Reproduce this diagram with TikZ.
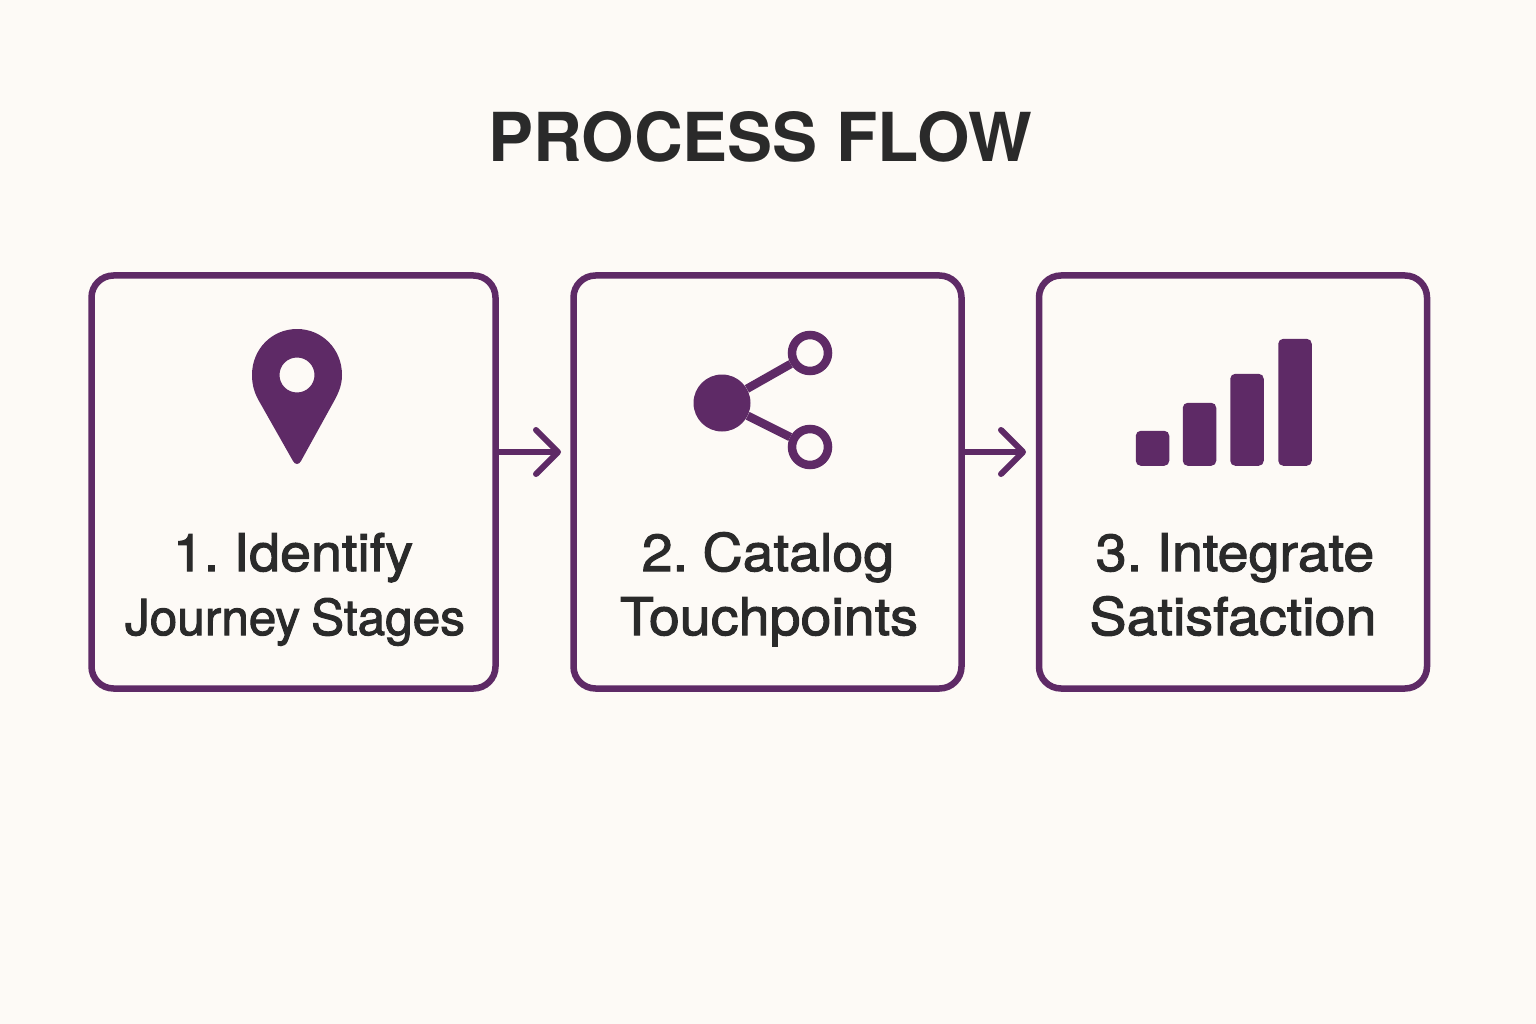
\documentclass[tikz,border=0pt]{standalone}
\usepackage{fontspec}
\setmainfont{TeX Gyre Heros}
\newfontfamily\labelfont[FakeBold=2,FakeStretch=1.07,WordSpace=0.6]{TeX Gyre Heros}
\newfontfamily\narrowfont[FakeBold=2,WordSpace=0.8]{TeX Gyre Heros}
\usepackage{xcolor}
\usetikzlibrary{arrows.meta,positioning}
\definecolor{pagebg}{HTML}{FDFAF6}
\definecolor{plum}{HTML}{5E2A66}
\definecolor{ink}{HTML}{2A2A2A}
\tikzset{
    stagebox/.style={draw=plum,line width=6.5pt,rounded corners=22pt,fill=none,minimum height=413pt,inner sep=0pt},
    stagelabel/.style={text=ink,font=\labelfont\fontsize{52}{52}\selectfont,inner sep=0pt,anchor=base},
    narrowlabel/.style={stagelabel,font=\narrowfont\fontsize{49.5}{50}\selectfont},
    flow/.style={draw=plum,line width=6pt,-{Straight Barb[length=22pt,width=44pt,round,line width=6pt]}},
    hub/.style={circle,fill=plum,minimum size=57pt,inner sep=0pt},
    ring/.style={circle,draw=plum,line width=8.5pt,minimum size=36pt,inner sep=0pt},
    spoke/.style={draw=plum,line width=8.5pt},
    bar/.style={fill=plum,rounded corners=5pt,minimum width=33.5pt,inner sep=0pt,anchor=south}
}
\begin{document}
\begin{tikzpicture}[x=1pt,y=-1pt]
    \fill[pagebg] (0,0) rectangle (1536,1024);
    \useasboundingbox (0,0) rectangle (1536,1024);

    \node[text=ink,font=\bfseries\fontsize{67.5}{68}\selectfont,inner sep=0pt,anchor=base] (title) at (760,162) {PROCESS FLOW};

    \node[stagebox,minimum width=404pt] (identify) at (293.5,482) {};
    \node[stagebox,minimum width=388pt] (catalog) at (767.5,482) {};
    \node[stagebox,minimum width=388pt] (integrate) at (1233,482) {};

    % arrows
    \coordinate (tipa) at (561,452);
    \coordinate (tipb) at (1026,452);
    \draw[flow] (identify.east |- tipa) -- (tipa);
    \draw[flow] (catalog.east |- tipb) -- (tipb);

    % pin
    \fill[plum,even odd rule] (297,329)
        .. controls (322,329) and (342,349) .. (342,375)
        .. controls (342,386) and (338,394) .. (333,403)
        -- (301,461)
        .. controls (299,465) and (295,465) .. (293,461)
        -- (259,401)
        .. controls (255,394) and (252,386) .. (252,375)
        .. controls (252,349) and (272,329) .. (297,329) -- cycle
        (297,375) circle[radius=17.5pt];
    \node[stagelabel] (identifya) at (293,571) {1. Identify};
    \node[narrowlabel] (identifyb) at (295,635) {Journey Stages};

    % share
    \node[hub] (hub) at (722,403) {};
    \node[ring] (ringa) at (810,353) {};
    \node[ring] (ringb) at (810,447) {};
    \draw[spoke] (hub) -- (ringa);
    \draw[spoke] (hub) -- (ringb);
    \node[stagelabel] (cataloga) at (768,571) {2. Catalog};
    \node[stagelabel] (catalogb) at (769,635) {Touchpoints};

    % bars
    \node[bar,minimum height=35pt] (bara) at (1152.5,466) {};
    \node[bar,minimum height=63pt] (barb) at (1199.5,466) {};
    \node[bar,minimum height=92pt] (barc) at (1247,466) {};
    \node[bar,minimum height=127pt] (bard) at (1295,466) {};
    \node[stagelabel] (integratea) at (1235,571) {3. Integrate};
    \node[stagelabel] (integrateb) at (1233,635) {Satisfaction};
\end{tikzpicture}
\end{document}
